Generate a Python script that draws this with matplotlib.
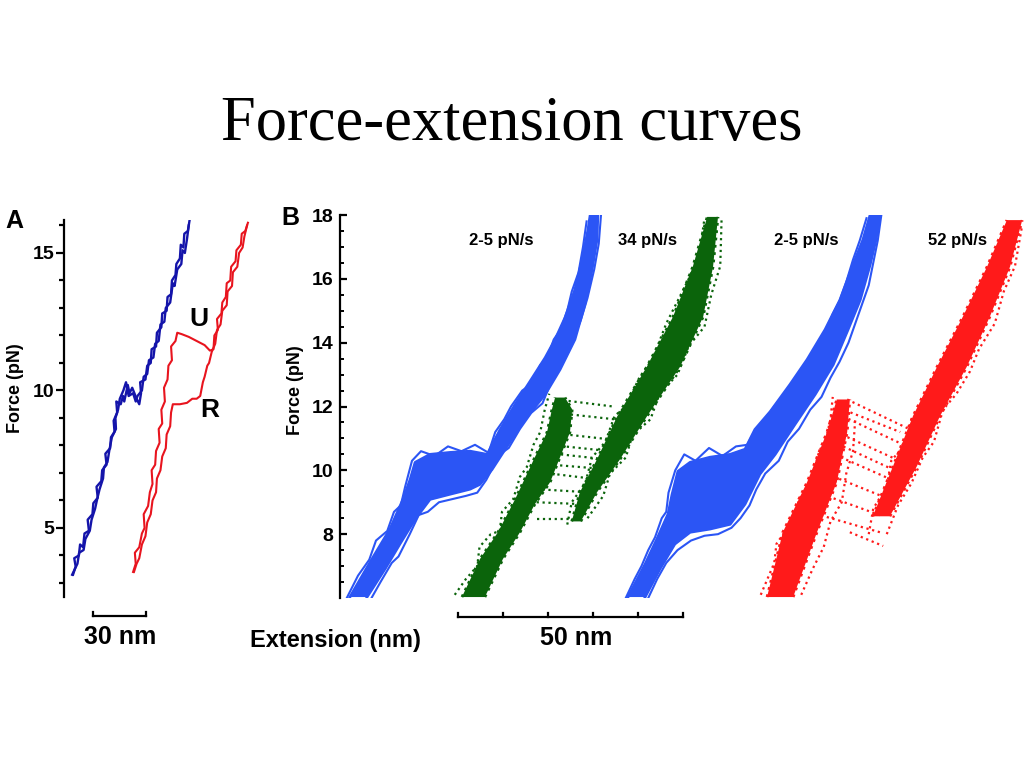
import matplotlib
matplotlib.use('Agg')
import matplotlib.pyplot as plt
import numpy as np

plt.rcParams['font.family'] = ['Liberation Sans', 'DejaVu Sans']
plt.rcParams['font.weight'] = 'bold'

# ---- panel A: single pulling cycles (extension nm, force pN) ----
blue_up_x = [4.5, 6.0, 5.2, 7.8, 8.5, 10.2, 11.0, 13.5, 12.8, 15.5, 16.0, 18.5, 17.8, 20.5, 21.0,
             23.5, 22.8, 25.5, 26.0, 28.0, 27.5, 29.5, 29.0, 31.5, 32.8, 33.5, 35.5, 36.5, 38.0, 40.5,
             42.0, 43.0, 42.5, 45.5, 46.5, 48.5, 49.0, 51.5, 52.0, 54.5, 55.0, 57.5, 58.0, 60.0, 60.5,
             62.5, 63.0, 65.0, 65.5, 67.0, 67.5, 69.5, 70.5]
blue_up_f = [3.3, 3.6, 3.9, 4.0, 4.4, 4.3, 4.8, 4.9, 5.3, 5.5, 5.9, 6.1, 6.5, 6.7, 7.1,
             7.3, 7.7, 7.9, 8.3, 8.5, 8.9, 9.2, 9.6, 9.5, 9.8, 9.6, 10.2, 9.9, 10.1, 9.7,
             9.5, 9.9, 10.3, 10.4, 10.9, 11.0, 11.5, 11.6, 12.1, 12.3, 12.8, 12.9, 13.4, 13.5, 14.0,
             14.2, 14.6, 14.8, 15.3, 15.2, 15.7, 15.8, 16.2]
blue_dn_x = [70.0, 69.0, 67.8, 66.5, 65.8, 63.5, 62.0, 61.0, 59.5, 57.0, 56.2, 54.0, 53.0, 51.0, 50.0,
             47.5, 46.5, 44.5, 43.5, 41.0, 40.0, 38.5, 36.0, 34.5, 33.0, 31.0, 30.0, 28.5, 28.8, 26.5,
             25.0, 24.0, 22.0, 21.5, 19.5, 18.0, 17.0, 15.0, 14.0, 11.5, 10.5, 8.0, 7.0, 5.5, 4.0]
blue_dn_f = [16.0, 15.5, 15.0, 15.1, 14.6, 14.4, 13.8, 13.9, 13.2, 13.0, 12.5, 12.4, 11.8, 11.7, 11.2,
             11.1, 10.6, 10.5, 10.0, 9.8, 9.6, 9.9, 9.8, 10.3, 10.0, 9.7, 9.3, 9.0, 8.6, 8.3,
             7.8, 7.4, 7.2, 6.8, 6.4, 6.0, 5.7, 5.3, 4.9, 4.6, 4.2, 4.1, 3.7, 3.5, 3.3]

red_up_x = [38.5, 40.0, 39.5, 42.0, 43.5, 45.0, 44.5, 47.0, 48.0, 49.5, 49.0, 51.0, 51.5, 53.5, 53.0,
            55.0, 54.5, 56.5, 56.0, 58.0, 58.5, 60.5, 60.0, 62.5, 63.5, 66.0, 70.0, 74.5, 79.0, 82.0,
            84.0, 84.5, 86.5, 86.0, 88.5, 89.0, 91.0, 91.5, 93.5, 94.0, 96.5, 97.0, 99.5, 100.0, 102.0, 103.5]
red_up_f = [3.4, 3.7, 4.1, 4.3, 4.8, 5.0, 5.5, 5.8, 6.3, 6.6, 7.1, 7.3, 7.8, 8.1, 8.6,
            8.8, 9.3, 9.6, 10.1, 10.4, 10.9, 11.1, 11.6, 11.8, 12.1, 12.05, 11.95, 11.8, 11.65, 11.45,
            11.5, 12.0, 12.2, 12.6, 12.8, 13.2, 13.4, 13.9, 14.0, 14.5, 14.7, 15.1, 15.3, 15.7, 15.8, 16.1]
red_dn_x = [103.0, 101.5, 100.5, 98.5, 97.5, 95.0, 94.5, 92.0, 91.5, 89.0, 88.0, 86.0, 85.0, 83.0, 81.5,
            80.5, 79.0, 78.0, 76.5, 74.5, 72.0, 69.0, 65.0, 61.0, 60.0, 59.5, 57.5, 57.0, 55.0, 54.0,
            52.0, 51.5, 49.5, 48.5, 46.5, 45.5, 43.5, 42.0, 40.5, 39.0]
red_dn_f = [16.0, 15.6, 15.2, 15.0, 14.5, 14.3, 13.8, 13.6, 13.1, 12.9, 12.4, 12.2, 11.7, 11.4, 11.0,
            10.9, 10.5, 10.3, 9.8, 9.7, 9.7, 9.55, 9.5, 9.5, 9.2, 8.7, 8.4, 7.9, 7.6, 7.1,
            6.8, 6.3, 6.0, 5.5, 5.2, 4.7, 4.4, 3.9, 3.7, 3.4]

# ---- panel B: bundles of many cycles, given by band edges + a few outer traces ----
b1_left_x = [2.2, 7.1, 11.1, 14.0, 15.6, 16.7, 20.0, 24.4, 28.9, 32.7, 35.6, 38.9, 42.2, 45.6, 47.8, 50.0, 52.2, 53.8, 55.1, 55.6]
b1_left_f = [6.03, 7.22, 8.16, 9.09, 9.72, 10.25, 10.5, 10.56, 10.6, 10.5, 11.28, 12.06, 12.78, 13.53, 14.1, 14.78, 15.66, 16.6, 17.53, 18.0]
b1_right_x = [6.0, 10.0, 13.3, 16.7, 20.0, 24.4, 28.9, 31.1, 33.8, 36.7, 41.1, 45.6, 48.9, 52.2, 54.4, 56.0, 57.1, 57.3]
b1_right_f = [6.03, 6.91, 7.69, 8.47, 9.09, 9.25, 9.41, 9.56, 10.03, 10.66, 11.6, 12.38, 13.16, 14.1, 15.19, 16.28, 17.22, 18.0]
b1_out1_x = [1.5, 4.0, 6.5, 8.0, 10.5, 12.0, 13.5, 14.5, 16.0, 18.0, 21.0, 24.0, 27.0, 30.0, 33.0, 34.5, 36.5, 38.0,
             40.5, 42.5, 44.5, 46.0, 47.5, 49.0, 50.5, 51.5, 53.0, 54.0, 54.8]
b1_out1_f = [6.0, 6.7, 7.2, 7.8, 8.1, 8.7, 8.9, 9.5, 10.3, 10.6, 10.45, 10.75, 10.6, 10.8, 10.55, 11.2, 11.6, 12.0,
             12.5, 12.7, 13.3, 13.5, 14.1, 14.4, 15.0, 15.6, 16.2, 17.0, 17.8]
b1_out2_x = [7.0, 9.0, 11.5, 13.0, 15.5, 17.5, 19.5, 22.0, 25.0, 28.0, 30.5, 32.5, 34.0, 35.5, 37.5, 40.0, 42.5,
             45.0, 47.0, 49.5, 51.5, 53.5, 55.0, 56.5, 57.5, 58.0]
b1_out2_f = [6.0, 6.5, 7.1, 7.3, 8.0, 8.6, 8.7, 9.0, 9.1, 9.2, 9.3, 9.7, 10.1, 10.5, 10.7, 11.3, 11.8,
             12.1, 12.8, 13.4, 14.0, 14.7, 15.4, 16.3, 17.1, 18.0]

g_fold_left_x = [27.1, 31.1, 35.1, 38.9, 40.7, 43.3, 46.0, 47.1, 47.8]
g_fold_left_f = [6.03, 7.22, 8.06, 9.09, 9.63, 10.41, 11.19, 11.91, 12.28]
g_fold_right_x = [32.2, 36.2, 40.0, 43.3, 46.7, 48.9, 51.1, 51.6, 50.0]
g_fold_right_f = [6.03, 7.22, 8.06, 8.94, 9.63, 10.41, 11.19, 11.91, 12.28]
g_unf_left_x = [51.5, 53.3, 57.1, 61.6, 68.2, 74.0, 78.4, 81.6]
g_unf_left_f = [8.4, 9.31, 10.34, 11.69, 13.25, 14.81, 16.38, 17.94]
g_unf_right_x = [53.5, 57.1, 62.2, 68.2, 75.6, 80.7, 82.9, 84.0]
g_unf_right_f = [8.4, 9.31, 10.34, 11.69, 13.25, 14.81, 16.38, 17.94]
g_out1_x = [25.5, 28.0, 30.5, 31.0, 33.5, 35.5, 36.0, 38.5, 40.0, 41.5, 43.0, 44.5, 45.5, 46.5]
g_out1_f = [6.1, 6.6, 7.0, 7.6, 8.0, 8.1, 8.7, 9.1, 9.8, 10.1, 10.8, 11.2, 11.9, 12.4]
g_out2_x = [50.5, 51.5, 54.5, 56.0, 59.0, 61.0, 63.5, 66.5, 69.5, 72.5, 75.0, 77.5, 80.0, 81.0]
g_out2_f = [8.3, 9.0, 9.6, 10.4, 10.9, 11.7, 12.0, 12.9, 13.5, 14.6, 15.3, 16.0, 16.9, 17.9]
g_out3_x = [55.0, 58.5, 60.0, 63.5, 65.0, 69.0, 71.0, 75.0, 77.5, 81.0, 82.5, 84.5, 84.8]
g_out3_f = [8.5, 9.2, 9.9, 10.4, 11.1, 11.6, 12.4, 13.0, 13.9, 14.5, 15.5, 16.4, 17.9]
# rip / refold jumps: x1, f1, x2, f2
g_jumps = [(48.2, 12.22, 60.7, 12.0), (47.4, 11.81, 61.6, 11.59), (46.0, 11.19, 60.0, 10.97),
           (45.2, 10.56, 59.3, 10.34), (44.4, 9.94, 57.1, 9.72), (43.7, 9.41, 55.6, 9.31),
           (43.7, 9.0, 54.0, 8.94), (43.7, 8.47, 52.7, 8.47), (46.5, 10.8, 60.0, 10.6),
           (45.0, 10.2, 58.0, 10.05)]

b3_left_x = [64.0, 67.8, 70.4, 72.9, 73.8, 75.1, 77.8, 82.2, 86.7, 90.0, 92.2, 95.6, 100.0, 103.8, 107.8, 111.1, 114.0, 116.2, 117.8]
b3_left_f = [6.03, 7.06, 7.84, 8.63, 9.25, 9.97, 10.25, 10.41, 10.5, 10.66, 11.28, 11.84, 12.69, 13.47, 14.41, 15.34, 16.44, 17.22, 18.0]
b3_right_x = [67.8, 71.1, 74.4, 77.8, 82.2, 86.7, 90.0, 93.3, 96.7, 101.1, 105.6, 109.6, 112.9, 115.6, 117.8, 119.1, 120.0]
b3_right_f = [6.03, 6.91, 7.69, 8.06, 8.16, 8.31, 8.94, 9.88, 10.5, 11.44, 12.38, 13.31, 14.41, 15.34, 16.44, 17.22, 18.0]
b3_out1_x = [63.5, 65.5, 67.0, 68.5, 70.0, 71.5, 72.5, 73.0, 74.5, 76.5, 79.0, 82.0, 85.0, 88.0, 90.5, 92.0, 94.0,
             96.5, 99.0, 101.5, 103.5, 105.5, 107.5, 109.5, 111.0, 112.5, 114.0, 115.5, 117.0]
b3_out1_f = [6.0, 6.6, 7.0, 7.5, 7.9, 8.5, 8.7, 9.3, 10.0, 10.5, 10.3, 10.7, 10.45, 10.75, 10.8, 11.2, 11.5,
             12.0, 12.4, 12.9, 13.3, 13.8, 14.2, 14.9, 15.3, 15.9, 16.6, 17.2, 17.9]
b3_out2_x = [68.5, 70.5, 72.5, 75.0, 78.0, 81.0, 84.0, 87.0, 89.0, 91.0, 92.5, 94.5, 97.5, 99.5, 102.0, 104.5,
             107.0, 109.0, 111.0, 113.0, 114.5, 116.0, 117.5, 118.5, 119.5, 120.3]
b3_out2_f = [6.0, 6.6, 7.1, 7.5, 7.8, 7.95, 8.0, 8.2, 8.5, 8.9, 9.4, 9.9, 10.3, 10.9, 11.3, 11.9,
             12.3, 12.9, 13.4, 14.0, 14.6, 15.2, 15.8, 16.5, 17.2, 18.0]

r_fold_left_x = [94.9, 98.4, 103.8, 108.2, 110.4]
r_fold_left_f = [6.03, 8.06, 9.63, 11.19, 12.22]
r_fold_right_x = [100.7, 106.0, 110.4, 112.7, 113.3]
r_fold_right_f = [6.03, 8.06, 9.63, 11.19, 12.22]
r_unf_left_x = [118.4, 122.9, 127.3, 132.7, 138.4, 143.8, 148.2]
r_unf_left_f = [8.56, 10.13, 11.69, 13.25, 14.81, 16.38, 17.84]
r_unf_right_x = [122.2, 128.2, 133.3, 139.3, 144.4, 148.9, 151.6]
r_unf_right_f = [8.56, 10.13, 11.69, 13.25, 14.81, 16.38, 17.84]
r_out1_x = [93.5, 95.0, 96.5, 97.0, 99.5, 101.0, 102.0, 104.0, 105.5, 106.5, 108.0, 109.0, 109.5]
r_out1_f = [6.1, 6.6, 7.1, 7.7, 8.2, 8.5, 9.1, 9.5, 10.1, 10.6, 11.0, 11.6, 12.3]
r_out2_x = [102.5, 105.0, 107.5, 109.0, 111.5, 112.5, 114.0, 114.5]
r_out2_f = [6.1, 6.9, 7.6, 8.4, 9.0, 9.9, 10.6, 11.6]
r_out3_x = [117.5, 118.5, 121.5, 122.5, 125.5, 127.0, 130.0, 132.5, 135.0, 137.5, 140.5, 142.5, 145.5, 147.5]
r_out3_f = [8.0, 8.8, 9.5, 10.3, 10.8, 11.6, 12.1, 12.9, 13.4, 14.2, 14.8, 15.7, 16.4, 17.3]
r_out4_x = [121.5, 124.0, 127.0, 129.5, 132.0, 134.0, 137.0, 140.0, 142.0, 145.5, 147.5, 150.0, 151.5]
r_out4_f = [8.0, 8.9, 9.6, 10.4, 10.9, 11.9, 12.4, 13.1, 13.8, 14.6, 15.6, 16.4, 17.6]
r_jumps = [(112.7, 12.22, 126.7, 11.28), (111.8, 11.69, 126.0, 10.75), (110.4, 11.19, 125.1, 10.25),
           (108.9, 10.56, 123.8, 9.63), (107.3, 9.94, 122.2, 9.09), (106.0, 9.31, 120.7, 8.56),
           (104.4, 8.69, 120.0, 8.06), (113.3, 8.06, 120.7, 7.63), (111.0, 11.95, 124.5, 11.2),
           (109.5, 10.9, 122.5, 10.05)]

rate_labels = ['2-5 pN/s', '34 pN/s', '2-5 pN/s', '52 pN/s']
rate_label_x = [501, 648, 806, 957]

blueA = '#1414aa'
redA = '#e8141e'
blueB = '#2b55f5'
greenB = '#0b640b'
redB = '#ff1a1a'

W, H = 1024, 768
fig = plt.figure(figsize=(W / 100, H / 100), dpi=100)


def fx(x):
    return x / W


def fy(y):
    return 1 - y / H


def band(ax, lx, lf, rx, rf, color, ls='-'):
    ax.fill(list(lx) + list(rx)[::-1], list(lf) + list(rf)[::-1], color=color, lw=0)
    ax.plot(lx, lf, color=color, lw=2.0, ls=ls)
    ax.plot(rx, rf, color=color, lw=2.0, ls=ls)


# title
fig.text(0.5, fy(140), 'Force-extension curves', family='Liberation Serif', weight='normal',
         size=45, ha='center', va='baseline')

# ---- panel A ----
axA = fig.add_axes([fx(64), fy(597), fx(270 - 64), (597 - 220) / H])
axA.plot(blue_up_x, blue_up_f, color=blueA, lw=1.7)
axA.plot(blue_dn_x, blue_dn_f, color=blueA, lw=1.7)
axA.plot(red_up_x, red_up_f, color=redA, lw=1.5)
axA.plot(red_dn_x, red_dn_f, color=redA, lw=1.5)
axA.set_xlim(-0.6, 116.0)
axA.set_ylim(2.49, 16.2)
for s in ['top', 'right', 'bottom']:
    axA.spines[s].set_visible(False)
axA.spines['left'].set_linewidth(1.6)
axA.set_xticks([])
axA.set_yticks([5, 10, 15])
axA.set_yticks(range(3, 17), minor=True)
axA.tick_params(axis='y', which='major', direction='out', length=6, width=1.6, labelsize=14, pad=1)
axA.tick_params(axis='y', which='minor', direction='out', length=3.5, width=1.6)
axA.text(76, 12.6, 'U', fontsize=19, fontweight='bold', ha='center', va='center')
axA.text(82, 9.3, 'R', fontsize=19, fontweight='bold', ha='center', va='center')
# 30 nm scale bar
axA.plot([15.8, 45.8], [1.8, 1.8], color='black', lw=1.6, clip_on=False)
axA.plot([15.8, 15.8], [1.8, 1.95], color='black', lw=1.6, clip_on=False)
axA.plot([45.8, 45.8], [1.8, 1.95], color='black', lw=1.6, clip_on=False)

# ---- panel B ----
axB = fig.add_axes([fx(340), fy(598), fx(W - 340), (598 - 215) / H])
band(axB, b1_left_x, b1_left_f, b1_right_x, b1_right_f, blueB)
axB.plot(b1_out1_x, b1_out1_f, color=blueB, lw=1.5)
axB.plot(b1_out2_x, b1_out2_f, color=blueB, lw=1.5)
band(axB, b3_left_x, b3_left_f, b3_right_x, b3_right_f, blueB)
axB.plot(b3_out1_x, b3_out1_f, color=blueB, lw=1.5)
axB.plot(b3_out2_x, b3_out2_f, color=blueB, lw=1.5)
band(axB, g_fold_left_x, g_fold_left_f, g_fold_right_x, g_fold_right_f, greenB, ls=':')
band(axB, g_unf_left_x, g_unf_left_f, g_unf_right_x, g_unf_right_f, greenB, ls=':')
for ox, of in [(g_out1_x, g_out1_f), (g_out2_x, g_out2_f), (g_out3_x, g_out3_f)]:
    axB.plot(ox, of, color=greenB, lw=1.6, ls=':')
band(axB, r_fold_left_x, r_fold_left_f, r_fold_right_x, r_fold_right_f, redB, ls=':')
band(axB, r_unf_left_x, r_unf_left_f, r_unf_right_x, r_unf_right_f, redB, ls=':')
for ox, of in [(r_out1_x, r_out1_f), (r_out2_x, r_out2_f), (r_out3_x, r_out3_f), (r_out4_x, r_out4_f)]:
    axB.plot(ox, of, color=redB, lw=1.6, ls=':')
for x1, f1, x2, f2 in g_jumps:
    axB.plot([x1, x2], [f1, f2], color=greenB, lw=1.6, ls=':')
for x1, f1, x2, f2 in r_jumps:
    axB.plot([x1, x2], [f1, f2], color=redB, lw=1.6, ls=':')
axB.set_xlim(0, 152)
axB.set_ylim(6, 18)
for s in ['top', 'right', 'bottom']:
    axB.spines[s].set_visible(False)
axB.spines['left'].set_linewidth(1.6)
axB.set_xticks([])
axB.set_yticks([8, 10, 12, 14, 16, 18])
axB.set_yticks(np.arange(6.5, 18, 0.5), minor=True)
axB.tick_params(axis='y', which='major', direction='in', length=5, width=1.6, labelsize=14, pad=5)
axB.tick_params(axis='y', which='minor', direction='in', length=3, width=1.4)
# 50 nm scale bar with 10 nm ticks
axB.plot([26.2, 76.2], [5.41, 5.41], color='black', lw=1.6, clip_on=False)
for t in [26.2, 36.2, 46.2, 56.2, 66.2, 76.2]:
    axB.plot([t, t], [5.41, 5.53], color='black', lw=1.6, clip_on=False)

for lab, x in zip(rate_labels, rate_label_x):
    fig.text(fx(x), fy(241), lab, fontsize=12, fontweight='bold', ha='center', va='center')

# labels
fig.text(fx(5), fy(228), 'A', fontsize=18, fontweight='bold', ha='left', va='baseline')
fig.text(fx(281), fy(225), 'B', fontsize=18, fontweight='bold', ha='left', va='baseline')
fig.text(fx(16), fy(388), 'Force (pN)', fontsize=13, fontweight='bold', rotation=90, ha='center', va='center')
fig.text(fx(296), fy(390), 'Force (pN)', fontsize=13, fontweight='bold', rotation=90, ha='center', va='center')
fig.text(fx(120), fy(637), '30 nm', fontsize=18, fontweight='bold', ha='center', va='center')
fig.text(fx(576), fy(638), '50 nm', fontsize=18, fontweight='bold', ha='center', va='center')
fig.text(fx(335), fy(640), 'Extension (nm)', fontsize=17, fontweight='bold', ha='center', va='center')

fig.savefig('out.png', dpi=100)
